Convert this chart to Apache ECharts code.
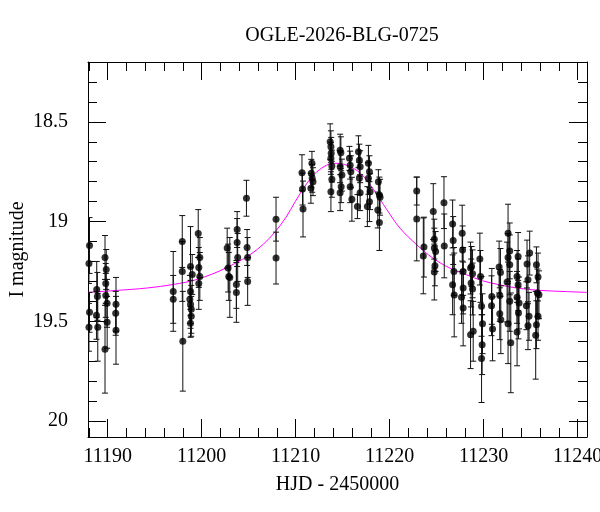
<!DOCTYPE html>
<html>
<head>
<meta charset="utf-8">
<script src="https://cdn.jsdelivr.net/npm/echarts@6/dist/echarts.min.js"></script>
<style>
  html, body { margin: 0; padding: 0; background: #fff; }
  #chart { width: 600px; height: 512px; }
</style>
</head>
<body>
<div id="chart"></div>
<script>
// photometry: HJD - 2450000, I magnitude, error
const hjd = [
  11188.06, 11188.00, 11188.06, 11188.00, 11188.83, 11188.90, 11188.80, 11188.94, 11189.71, 11189.84,
  11189.79, 11189.79, 11189.93, 11189.94, 11189.71, 11190.88, 11190.85, 11190.88,
  11196.97, 11196.97, 11197.93, 11197.93, 11197.99, 11198.81, 11198.99, 11198.81, 11198.74, 11198.81,
  11198.89, 11198.89, 11198.81, 11199.63, 11199.80, 11199.69, 11199.80, 11199.69,
  11202.71, 11202.81, 11202.88, 11202.99, 11203.77, 11203.77, 11203.83, 11203.69, 11203.69, 11204.76,
  11204.83, 11204.89, 11204.89, 11207.91, 11207.91,
  11210.67, 11210.73, 11210.78, 11211.73, 11211.66, 11211.76, 11211.84, 11211.62, 11213.67, 11213.75,
  11213.78, 11213.75, 11213.85, 11213.85, 11213.75, 11214.73, 11214.81, 11214.73, 11214.92, 11214.84,
  11214.73, 11215.72, 11215.80, 11215.87, 11215.80, 11215.98, 11216.68, 11216.78, 11216.86, 11216.78,
  11216.86, 11216.57, 11217.74, 11217.85, 11217.74, 11217.92, 11217.85, 11217.63, 11218.80, 11218.91,
  11218.98, 11218.74, 11218.91,
  11222.88, 11222.88, 11223.65, 11223.58, 11224.64, 11224.75, 11224.75, 11224.89, 11224.82, 11224.75,
  11225.78, 11225.81, 11226.70, 11226.76, 11226.84, 11226.70, 11226.87, 11227.72, 11227.76, 11227.82,
  11227.82, 11227.65, 11227.82, 11228.72, 11228.61, 11228.82, 11228.67, 11228.82, 11228.61, 11228.89,
  11229.60, 11229.67, 11229.78, 11229.88, 11229.84, 11229.78, 11230.87, 11230.84, 11230.95, 11231.65,
  11231.79, 11231.72, 11231.72, 11231.83, 11232.60, 11232.78, 11232.60, 11232.78, 11232.50, 11232.78,
  11232.60, 11232.89, 11233.67, 11233.56, 11233.67, 11233.56, 11233.77, 11233.71, 11233.56, 11234.90,
  11234.62, 11234.72, 11234.55, 11234.83, 11234.72, 11235.62, 11235.79, 11235.72, 11235.89, 11235.79,
  11235.62, 11235.54
];
const mag = [
  19.120, 19.210, 19.455, 19.530, 19.340, 19.375, 19.470, 19.530, 19.180, 19.240,
  19.310, 19.370, 19.410, 19.505, 19.640, 19.415, 19.460, 19.545,
  19.350, 19.390, 19.100, 19.250, 19.600, 19.225, 19.265, 19.350, 19.390, 19.415,
  19.440, 19.475, 19.510, 19.060, 19.180, 19.230, 19.275, 19.310,
  19.133, 19.233, 19.275, 19.280, 19.040, 19.105, 19.180, 19.315, 19.355, 18.883,
  19.130, 19.180, 19.300, 18.988, 19.183,
  18.755, 18.837, 18.937, 18.708, 18.758, 18.783, 18.800, 18.833, 18.600, 18.625,
  18.658, 18.683, 18.722, 18.788, 18.850, 18.642, 18.655, 18.725, 18.767, 18.825,
  18.855, 18.683, 18.717, 18.750, 18.825, 18.888, 18.650, 18.692, 18.725, 18.783,
  18.855, 18.925, 18.708, 18.750, 18.783, 18.850, 18.900, 18.925, 18.800, 18.867,
  18.878, 18.942, 19.005,
  18.847, 18.987, 19.128, 19.172, 18.950, 19.088, 19.133, 19.150, 19.222, 19.253,
  18.905, 19.122, 19.012, 19.095, 19.250, 19.317, 19.368, 19.058, 19.142, 19.250,
  19.333, 19.380, 19.433, 19.225, 19.233, 19.262, 19.308, 19.338, 19.567, 19.550,
  19.188, 19.275, 19.425, 19.512, 19.617, 19.687, 19.375, 19.422, 19.538, 19.228,
  19.255, 19.370, 19.462, 19.492, 19.058, 19.147, 19.180, 19.217, 19.303, 19.400,
  19.512, 19.608, 19.175, 19.275, 19.317, 19.380, 19.408, 19.458, 19.553, 19.158,
  19.213, 19.292, 19.422, 19.475, 19.522, 19.217, 19.278, 19.358, 19.367, 19.475,
  19.517, 19.570
];
const magErr = [
  0.14, 0.10, 0.10, 0.12, 0.14, 0.12, 0.12, 0.17, 0.11, 0.10,
  0.10, 0.11, 0.12, 0.13, 0.22, 0.135, 0.11, 0.17,
  0.20, 0.12, 0.13, 0.15, 0.25, 0.20, 0.10, 0.12, 0.12, 0.12,
  0.12, 0.10, 0.07, 0.12, 0.10, 0.10, 0.12, 0.13,
  0.10, 0.12, 0.12, 0.20, 0.09, 0.12, 0.12, 0.12, 0.15, 0.09,
  0.09, 0.10, 0.12, 0.11, 0.13,
  0.09, 0.08, 0.14, 0.06, 0.07, 0.07, 0.07, 0.075, 0.09, 0.08,
  0.08, 0.08, 0.08, 0.09, 0.10, 0.08, 0.08, 0.08, 0.08, 0.08,
  0.09, 0.06, 0.07, 0.08, 0.08, 0.11, 0.08, 0.08, 0.08, 0.08,
  0.09, 0.06, 0.09, 0.08, 0.08, 0.09, 0.10, 0.10, 0.06, 0.09,
  0.09, 0.09, 0.14,
  0.07, 0.21, 0.15, 0.19, 0.14, 0.10, 0.10, 0.10, 0.10, 0.14,
  0.13, 0.16, 0.12, 0.12, 0.12, 0.15, 0.21, 0.14, 0.12, 0.12,
  0.13, 0.13, 0.19, 0.10, 0.13, 0.12, 0.12, 0.13, 0.17, 0.15,
  0.13, 0.13, 0.15, 0.15, 0.15, 0.22, 0.14, 0.15, 0.16, 0.13,
  0.12, 0.13, 0.13, 0.17, 0.145, 0.14, 0.12, 0.15, 0.20, 0.15,
  0.20, 0.25, 0.12, 0.13, 0.13, 0.13, 0.13, 0.13, 0.17, 0.11,
  0.12, 0.12, 0.12, 0.12, 0.12, 0.09, 0.12, 0.12, 0.12, 0.12,
  0.12, 0.22
];

// model light curve
const modelHjd = [
  11187.9, 11191.0, 11194.2, 11197.0, 11199.5, 11202.7, 11205.9, 11208.4, 11210.5, 11211.9,
  11213.3, 11214.4, 11215.4, 11216.9, 11218.3, 11219.7, 11221.1, 11222.9, 11224.6, 11226.4,
  11228.2, 11229.9, 11231.7, 11233.5, 11236.0, 11238.8, 11241.0
];
const modelMag = [
  19.355, 19.345, 19.333, 19.315, 19.290, 19.230, 19.140, 19.017, 18.858, 18.767,
  18.717, 18.708, 18.717, 18.758, 18.840, 18.940, 19.033, 19.117, 19.183, 19.233,
  19.267, 19.297, 19.317, 19.333, 19.345, 19.351, 19.355
];

// ticks
const xMajorTicks = [11190, 11200, 11210, 11220, 11230, 11240];
const xMinorTicks = [11188, 11192, 11194, 11196, 11198, 11202, 11204, 11206, 11208, 11212, 11214,
  11216, 11218, 11222, 11224, 11226, 11228, 11232, 11234, 11236, 11238];
const yMajorTicks = [18.5, 19, 19.5, 20];
const yMinorTicks = [18.3, 18.4, 18.6, 18.7, 18.8, 18.9, 19.1, 19.2, 19.3, 19.4, 19.6, 19.7, 19.8, 19.9];

const FONT = 'Liberation Serif';
const X_MIN = 11187.9, X_MAX = 11241;
const Y_MIN = 18.2, Y_MAX = 20.08;

const frameLine = { show: true, lineStyle: { color: '#000', width: 1 } };

function xAxisDef(position, ticks, len, withLabels) {
  return {
    type: 'value', position: position, min: X_MIN, max: X_MAX,
    axisLine: len > 10 ? frameLine : { show: false },
    axisTick: { show: true, inside: true, length: len, customValues: ticks,
      lineStyle: { color: '#000', width: 1 } },
    axisLabel: withLabels ? {
      show: true, customValues: ticks, margin: 10, color: '#000',
      fontFamily: FONT, fontSize: 20, formatter: v => String(v)
    } : { show: false },
    splitLine: { show: false }
  };
}

function yAxisDef(position, ticks, len, withLabels) {
  return {
    type: 'value', position: position, min: Y_MIN, max: Y_MAX, inverse: true,
    axisLine: len > 10 ? frameLine : { show: false },
    axisTick: { show: true, inside: true, length: len, customValues: ticks,
      lineStyle: { color: '#000', width: 1 } },
    axisLabel: withLabels ? {
      show: true, customValues: ticks, margin: 20, color: '#000',
      fontFamily: FONT, fontSize: 20, formatter: v => String(v)
    } : { show: false },
    splitLine: { show: false }
  };
}

const xAxes = [
  xAxisDef('bottom', xMajorTicks, 18, true),
  xAxisDef('bottom', xMinorTicks, 9, false),
  xAxisDef('top', xMajorTicks, 18, false),
  xAxisDef('top', xMinorTicks, 9, false)
];
Object.assign(xAxes[0], {
  name: 'HJD - 2450000', nameLocation: 'middle', nameGap: 38, nameMoveOverlap: false,
  nameTextStyle: { fontFamily: FONT, fontSize: 20, color: '#000' }
});

const yAxes = [
  yAxisDef('left', yMajorTicks, 18, true),
  yAxisDef('left', yMinorTicks, 9, false),
  yAxisDef('right', yMajorTicks, 18, false),
  yAxisDef('right', yMinorTicks, 9, false)
];
Object.assign(yAxes[0], {
  name: 'I magnitude', nameLocation: 'middle', nameGap: 60, nameRotate: 90, nameMoveOverlap: false,
  nameTextStyle: { fontFamily: FONT, fontSize: 20, color: '#000' }
});

const points = hjd.map((t, i) => [t, mag[i]]);
const bars = hjd.map((t, i) => [t, mag[i] - magErr[i], mag[i] + magErr[i]]);
const model = modelHjd.map((t, i) => [t, modelMag[i]]);

const chart = echarts.init(document.getElementById('chart'), null, { renderer: 'canvas' });

chart.setOption({
  backgroundColor: '#fff',
  animation: false,
  title: {
    text: 'OGLE-2026-BLG-0725',
    left: 337, top: 21, textAlign: 'center',
    textStyle: { fontFamily: FONT, fontSize: 20, fontWeight: 'normal', color: '#000' }
  },
  grid: { left: 88, right: 13, top: 62, bottom: 75, outerBoundsMode: 'none', containLabel: false },
  xAxis: xAxes,
  yAxis: yAxes,
  series: [
    {
      name: 'model',
      type: 'line',
      data: model,
      smooth: 0.35,
      symbol: 'none',
      lineStyle: { color: '#ff00ff', width: 1 },
      z: 1
    },
    {
      name: 'errors',
      type: 'custom',
      data: bars,
      encode: { x: 0, y: [1, 2] },
      clip: true,
      renderItem: (params, api) => {
        const t = api.value(0);
        const lo = api.coord([t, api.value(1)]);
        const hi = api.coord([t, api.value(2)]);
        const w = 3;
        const style = { stroke: '#111', lineWidth: 1 };
        return {
          type: 'group',
          children: [
            { type: 'line', shape: { x1: lo[0], y1: lo[1], x2: hi[0], y2: hi[1] }, style: style },
            { type: 'line', shape: { x1: lo[0] - w, y1: lo[1], x2: lo[0] + w, y2: lo[1] }, style: style },
            { type: 'line', shape: { x1: hi[0] - w, y1: hi[1], x2: hi[0] + w, y2: hi[1] }, style: style }
          ]
        };
      },
      z: 2
    },
    {
      name: 'data',
      type: 'scatter',
      data: points,
      symbol: 'circle',
      symbolSize: 7,
      clip: true,
      itemStyle: { color: '#000' },
      z: 3
    }
  ]
});
</script>
</body>
</html>
